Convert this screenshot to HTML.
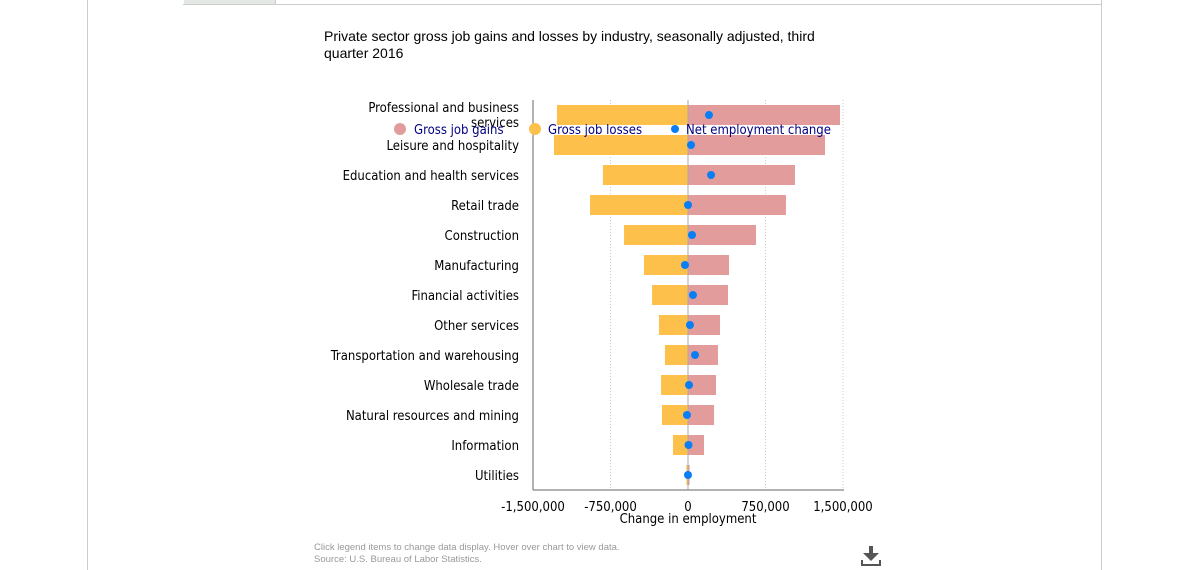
<!DOCTYPE html>
<html><head><meta charset="utf-8"><style>
body{margin:0;width:1192px;height:570px;background:#fff;font-family:"Liberation Sans",sans-serif;overflow:hidden;position:relative}
.t{font-family:"DejaVu Sans Condensed","Liberation Sans",sans-serif}
</style></head><body>
<div style="position:absolute;left:87px;top:0;width:1px;height:570px;background:#ccc"></div>
<div style="position:absolute;left:1101px;top:0;width:1px;height:570px;background:#ccc"></div>
<div style="position:absolute;left:183px;top:0;width:918px;height:4px;border-bottom:1px solid #ccc"></div>
<div style="position:absolute;left:184px;top:0;width:91px;height:4px;background:#e4e8e4;border-right:1px solid #ccc"></div>
<svg id="c" width="1192" height="570" style="position:absolute;left:0;top:0">
<text x="324" y="41" font-size="14" fill="#000" font-family="Liberation Sans">Private sector gross job gains and losses by industry, seasonally adjusted, third</text>
<text x="324" y="58" font-size="14" fill="#000" font-family="Liberation Sans">quarter 2016</text>
<g id="g"></g>
<text x="314" y="550" font-size="9.5" fill="#999" font-family="Liberation Sans">Click legend items to change data display. Hover over chart to view data.</text>
<text x="314" y="562" font-size="9.5" fill="#999" font-family="Liberation Sans">Source: U.S. Bureau of Labor Statistics.</text>
<g fill="#555">
<rect x="869" y="546" width="4" height="7"/><polygon points="863,553 879,553 871,561"/><rect x="861" y="564" width="20" height="2"/><rect x="861" y="560" width="2" height="6"/><rect x="879" y="560" width="2" height="6"/></g>
</svg>
<script>
const categories=["Professional and business services","Leisure and hospitality","Education and health services","Retail trade","Construction","Manufacturing","Financial activities","Other services","Transportation and warehousing","Wholesale trade","Natural resources and mining","Information","Utilities"];
const gains=[1471000,1326000,1035000,948000,658000,397000,387000,310000,290000,271000,252000,155000,15000];
const losses=[-1268000,-1297000,-823000,-948000,-619000,-426000,-348000,-281000,-223000,-261000,-252000,-145000,-15000];
const net=[203000,29000,223000,0,39000,-29000,48000,19000,68000,10000,-10000,5000,0];
const ticks=[-1500000,-750000,0,750000,1500000];
const tickLabels=["-1,500,000","-750,000","0","750,000","1,500,000"];
const NS="http://www.w3.org/2000/svg",g=document.getElementById('g');
const x=v=>688+v*155/1500000, y=i=>115+i*30;
function el(t,a,txt){const e=document.createElementNS(NS,t);for(const k in a)e.setAttribute(k,a[k]);if(txt!=null)e.textContent=txt;g.appendChild(e);return e;}
ticks.forEach((t,i)=>{
 if(t!==-1500000){const l=el('line',{x1:x(t),x2:x(t),y1:100,y2:490,stroke:'#ccc','stroke-dasharray':'1,2'});
 
 }
 const tx=el('text',{x:x(t),y:511,'font-size':13,'text-anchor':'middle',fill:'#000',class:'t'},tickLabels[i]);
 
 
});
categories.forEach((c,i)=>{
 const bl=el('rect',{x:x(losses[i]),y:y(i)-10,width:x(0)-x(losses[i]),height:20,fill:'#fdc04b'});
 
 
 const bg=el('rect',{x:x(0),y:y(i)-10,width:x(gains[i])-x(0),height:20,fill:'#e29c9c'});
 
 
});
const z=el('line',{x1:688,x2:688,y1:100,y2:490,stroke:'#aaa'});


categories.forEach((c,i)=>{
 const p=el('circle',{cx:x(net[i]),cy:y(i),r:4,fill:'#0a7ef5'});
 
 
 if(i===0){
  const a=el('text',{x:519,y:112,'font-size':13,'text-anchor':'end',class:'t'},'Professional and business');
  
  
  const b=el('text',{x:519,y:127,'font-size':13,'text-anchor':'end',class:'t'},'services');
  
  
 } else {
  const l=el('text',{x:519,y:y(i)+5,'font-size':13,'text-anchor':'end',class:'t'},c);
  
  
 }
});
const ax=el('line',{x1:533,x2:533,y1:100,y2:490,stroke:'#666'});


const bx=el('line',{x1:533,x2:844,y1:490,y2:490,stroke:'#666'});


const xt=el('text',{x:688,y:523,'font-size':13,'text-anchor':'middle',class:'t'},'Change in employment');


[[400,'#e29c9c',6,414,'Gross job gains'],[535,'#fdc04b',6,548,'Gross job losses'],[675,'#0a7ef5',4,686,'Net employment change']].forEach(L=>{
 const c=el('circle',{cx:L[0],cy:129,r:L[2],fill:L[1]});
 
 
 const t=el('text',{x:L[3],y:134,'font-size':13,fill:'#000080',class:'t'},L[4]);
 
 
});
</script>
</body></html>
